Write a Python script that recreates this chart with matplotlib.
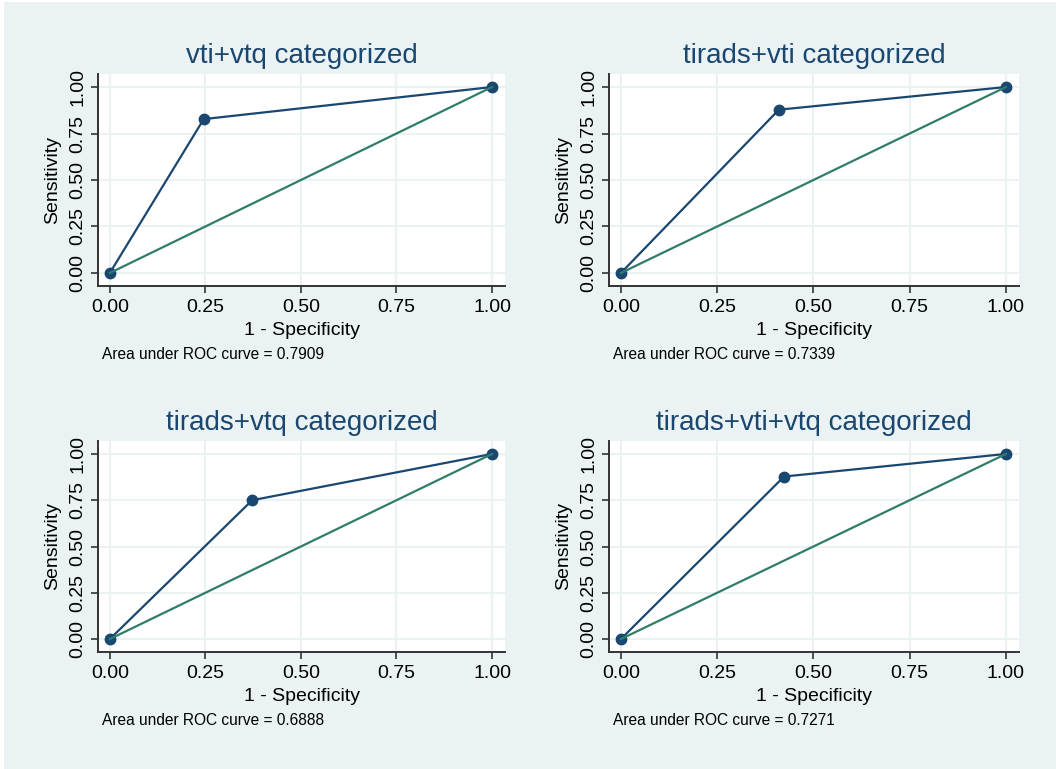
import matplotlib
matplotlib.use("Agg")
from matplotlib import pyplot as plt
from matplotlib.patches import Rectangle

plt.rcParams['font.family'] = ['Liberation Sans', 'DejaVu Sans']

# ROC points (1 - specificity, sensitivity) for each model
titles = ["vti+vtq categorized", "tirads+vti categorized",
          "tirads+vtq categorized", "tirads+vti+vtq categorized"]
fpr = [[0.0, 0.2456, 1.0],
       [0.0, 0.4102, 1.0],
       [0.0, 0.3724, 1.0],
       [0.0, 0.4238, 1.0]]
tpr = [[0.0, 0.8274, 1.0],
       [0.0, 0.8780, 1.0],
       [0.0, 0.7500, 1.0],
       [0.0, 0.8780, 1.0]]
auc = ["0.7909", "0.7339", "0.6888", "0.7271"]
ticks = [0.0, 0.25, 0.5, 0.75, 1.0]
tick_labels = ["0.00", "0.25", "0.50", "0.75", "1.00"]

navy = '#1a476f'
green = '#2f7d69'
bg = '#eaf2f3'
W, H = 1056, 769

fig = plt.figure(figsize=(W / 100, H / 100), dpi=100)
fig.patch.set_facecolor('white')
fig.patches.append(Rectangle((4 / W, 0), 1 - 4 / W, 1 - 2 / H, transform=fig.transFigure,
                             facecolor=bg, edgecolor='none', zorder=-10))

# axes boxes in pixels: left, right, top, bottom
boxes = [(98, 505, 74, 286), (609, 1019, 74, 286),
         (98, 505, 441, 652), (609, 1019, 441, 652)]

for i in range(4):
    l, r, t, b = boxes[i]
    ax = fig.add_axes([l / W, 1 - b / H, (r - l) / W, (b - t) / H])
    ax.set_facecolor('white')
    ax.plot(fpr[i], tpr[i], color=navy, lw=1.6, marker='o', ms=7.5, zorder=3)
    ax.plot([0, 1], [0, 1], color=green, lw=1.6, zorder=4)  # reference line
    ax.set_xlim(-0.031, 1.034)
    ax.set_ylim(-0.07, 1.07)
    ax.set_xticks(ticks)
    ax.set_xticklabels(tick_labels)
    ax.set_yticks(ticks)
    ax.set_yticklabels(tick_labels, rotation=90, va='center')
    ax.grid(True, color=bg, lw=1.5)
    ax.set_axisbelow(True)
    for s in ['top', 'right']:
        ax.spines[s].set_visible(False)
    for s in ['left', 'bottom']:
        ax.spines[s].set_color('#333333')
        ax.spines[s].set_linewidth(1.4)
    ax.tick_params(axis='both', length=5, width=1.2, color='#333333', labelsize=14)
    ax.tick_params(axis='x', pad=4)
    ax.tick_params(axis='y', pad=3.5)
    ax.set_title(titles[i], fontsize=20, color=navy, pad=8)
    ax.annotate("1 - Specificity", xy=(0.5, 0), xycoords='axes fraction',
                xytext=(0, -35.5), textcoords='offset points',
                ha='center', va='baseline', fontsize=14)
    ax.annotate("Sensitivity", xy=(0, 0.5), xycoords='axes fraction',
                xytext=(-33, 0), textcoords='offset points',
                ha='center', va='center', rotation=90, fontsize=14)
    ax.annotate("Area under ROC curve = " + auc[i], xy=(0, 0), xycoords='axes fraction',
                xytext=(3, -52.5), textcoords='offset points',
                ha='left', va='baseline', fontsize=11.2)

fig.savefig("out.png", dpi=100, facecolor=fig.get_facecolor())
